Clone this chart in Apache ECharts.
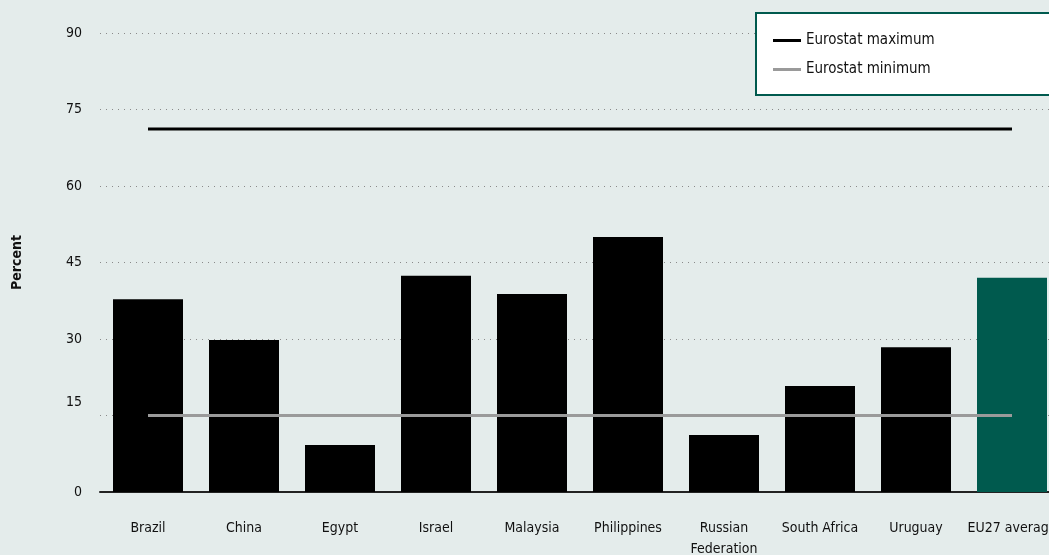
<!DOCTYPE html>
<html><head><meta charset="utf-8">
<script src="https://cdn.jsdelivr.net/npm/echarts@6/dist/echarts.min.js"></script>
<style>html,body{margin:0;padding:0;background:#e4eceb;}#c{width:1049px;height:555px;}</style>
</head><body><div id="c"></div>
<script>
const categories = ['Brazil','China','Egypt','Israel','Malaysia','Philippines','Russian\nFederation','South Africa','Uruguay','EU27 average'];
const percentValues = [37.8, 29.8, 9.2, 42.4, 38.8, 50.0, 11.2, 20.8, 28.4, 42.0];
const eurostatMax = [71.2, 71.2, 71.2, 71.2, 71.2, 71.2, 71.2, 71.2, 71.2, 71.2];
const eurostatMin = [15, 15, 15, 15, 15, 15, 15, 15, 15, 15];
const yTicks = [0, 15, 30, 45, 60, 75, 90];

const FONT = '"Liberation Sans Narrow", "DejaVu Sans Condensed", sans-serif';
const chart = echarts.init(document.getElementById('c'));
chart.setOption({
  backgroundColor: '#e4eceb',
  animation: false,
  grid: { left: 100, top: 33, width: 960, height: 459, outerBoundsMode: 'none', containLabel: false },
  legend: {
    orient: 'vertical', left: 756, top: 13,
    backgroundColor: '#ffffff', borderColor: '#005a4e', borderWidth: 2,
    padding: [20, 140, 18, 17], itemGap: 14, itemWidth: 28, itemHeight: 3,
    textStyle: { fontFamily: FONT, fontSize: 15, color: '#111' },
    data: [{ name: 'Eurostat maximum', icon: 'rect' }, { name: 'Eurostat minimum', icon: 'rect' }]
  },
  xAxis: {
    type: 'category', data: categories,
    axisLine: { lineStyle: { color: '#222', width: 2 } },
    axisTick: { show: false },
    axisLabel: { interval: 0, margin: 26, fontFamily: FONT, fontSize: 14, color: '#111', lineHeight: 21 }
  },
  yAxis: {
    type: 'value', min: yTicks[0], max: yTicks[yTicks.length - 1], interval: 15,
    name: 'Percent', nameLocation: 'middle', nameGap: 76, nameRotate: 90,
    nameTextStyle: { fontFamily: FONT, fontSize: 14, fontWeight: 'bold', color: '#111' },
    axisLine: { show: false }, axisTick: { show: false },
    axisLabel: {
      margin: 18, fontFamily: FONT, fontSize: 14, color: '#111',
      formatter: v => v === 15 ? '{up|15}' : String(v),
      rich: { up: { fontFamily: FONT, fontSize: 14, color: '#111', padding: [0, 0, 26, 0] } }
    },
    splitLine: { lineStyle: { color: '#8a8a8a', type: [1, 5], width: 1 } }
  },
  series: [
    {
      type: 'bar', barWidth: 70, z: 2,
      data: percentValues.map((v, i) => ({ value: v, itemStyle: { color: i === categories.length - 1 ? '#005a4e' : '#000000' } }))
    },
    {
      name: 'Eurostat maximum', type: 'line', data: eurostatMax, symbol: 'none', z: 5,
      lineStyle: { color: '#000000', width: 3 }, itemStyle: { color: '#000000' }
    },
    {
      name: 'Eurostat minimum', type: 'line', data: eurostatMin, symbol: 'none', z: 5,
      lineStyle: { color: '#9a9a9a', width: 3 }, itemStyle: { color: '#9a9a9a' }
    }
  ]
});
</script></body></html>
